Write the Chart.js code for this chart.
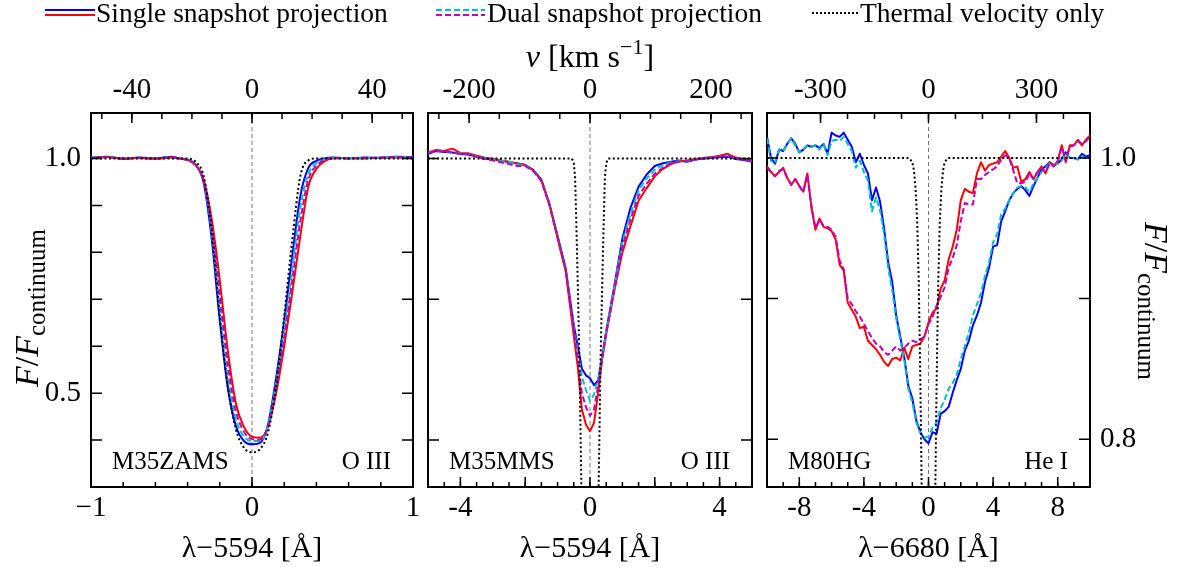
<!DOCTYPE html>
<html>
<head>
<meta charset="utf-8">
<title>Line profiles</title>
<script src="https://cdn.jsdelivr.net/npm/chart.js@4.4.1/dist/chart.umd.min.js"></script>
<style>
  html, body { margin: 0; padding: 0; background: #fff; }
  #wrap { position: relative; width: 1178px; height: 573px; overflow: hidden; }
  #wrap canvas { position: absolute; left: 0; top: 0; }
</style>
</head>
<body>
<div id="wrap">
  <canvas id="zams" width="1178" height="573"></canvas>
  <canvas id="mms" width="1178" height="573"></canvas>
  <canvas id="hg" width="1178" height="573"></canvas>
</div>
<script>
// Speed of light (km/s) for the velocity axes along the top
const C_KMS = 299792.458;
const W = 1178, H = 573;
// fixed room for each axis' tick labels (px)
const AXIS_X = 45, AXIS_Y = 55;

const BLUE = '#0000ff', RED = '#ff0000', CYAN = '#00bfbf', MAGENTA = '#bf00bf';
const SERIF = "'Liberation Serif', 'DejaVu Serif', serif";

// ---- M35ZAMS, O III (lambda - 5594 A) ----
const zamsLam = [-1, -0.9, -0.8, -0.7, -0.6, -0.5, -0.45, -0.4, -0.35, -0.3, -0.25, -0.2, -0.15, -0.1, -0.05,
  0, 0.05, 0.1, 0.15, 0.2, 0.25, 0.3, 0.35, 0.4, 0.45, 0.5, 0.6, 0.7, 0.8, 0.9, 1];
const zamsSingleBlue = [1.002, 1.004, 0.999, 1.002, 1.000, 1.004, 1.000, 0.997, 0.987, 0.948, 0.828, 0.654, 0.511, 0.430, 0.398,
  0.391, 0.394, 0.434, 0.533, 0.654, 0.792, 0.920, 0.980, 0.995, 1.000, 1.002, 1.000, 1.002, 1.001, 1.004, 1.003];
const zamsSingleRed = [1.001, 1.003, 1.000, 1.001, 0.999, 1.002, 1.000, 0.997, 0.986, 0.955, 0.870, 0.740, 0.590, 0.478, 0.428,
  0.407, 0.405, 0.428, 0.500, 0.600, 0.714, 0.835, 0.940, 0.978, 0.994, 1.000, 1.001, 1.000, 1.002, 1.002, 1.001];
const zamsDualCyan = [1.002, 1.004, 1.000, 1.002, 1.000, 1.003, 1.000, 0.997, 0.987, 0.950, 0.843, 0.685, 0.537, 0.445, 0.408,
  0.398, 0.398, 0.432, 0.523, 0.636, 0.765, 0.895, 0.967, 0.990, 0.998, 1.002, 1.001, 1.001, 1.002, 1.004, 1.002];
const zamsDualMagenta = [1.001, 1.003, 1.000, 1.001, 1.000, 1.003, 1.000, 0.997, 0.986, 0.952, 0.855, 0.712, 0.562, 0.462, 0.418,
  0.402, 0.401, 0.430, 0.512, 0.618, 0.740, 0.866, 0.955, 0.985, 0.996, 1.001, 1.000, 1.001, 1.002, 1.003, 1.002];
const zamsThermal = [1, 1, 1, 1, 1, 1, 1, 1, 0.993, 0.962, 0.850, 0.664, 0.515, 0.423, 0.384,
  0.374, 0.381, 0.417, 0.515, 0.664, 0.827, 0.962, 0.996, 1, 1, 1, 1, 1, 1, 1, 1];

// ---- M35MMS, O III (lambda - 5594 A) ----
const mmsLam = [-5, -4.75, -4.5, -4.25, -4, -3.75, -3.5, -3.25, -3, -2.75, -2.5, -2.25, -2, -1.75, -1.5, -1.25, -1, -0.75, -0.5,
  -0.375, -0.25, -0.125, 0, 0.125, 0.25, 0.375,
  0.5, 0.75, 1, 1.25, 1.5, 1.75, 2, 2.25, 2.5, 2.75, 3, 3.25, 3.5, 3.75, 4, 4.25, 4.5, 4.75, 5];
const mmsSingleBlue = [1.010, 1.016, 1.014, 1.013, 1.010, 1.008, 1.005, 1.000, 0.998, 0.996, 0.992, 0.990, 0.986, 0.976, 0.955, 0.902, 0.835, 0.766, 0.645,
  0.600, 0.552, 0.538, 0.532, 0.517, 0.527, 0.575,
  0.632, 0.728, 0.830, 0.895, 0.940, 0.966, 0.984, 0.990, 0.993, 0.996, 0.993, 0.998, 1.000, 1.001, 1.003, 1.004, 0.999, 0.997, 0.993];
const mmsSingleRed = [1.013, 1.018, 1.016, 1.021, 1.012, 1.011, 1.006, 1.002, 0.999, 0.995, 0.993, 0.989, 0.986, 0.975, 0.953, 0.903, 0.830, 0.760, 0.622,
  0.555, 0.465, 0.433, 0.419, 0.437, 0.500, 0.572,
  0.625, 0.718, 0.800, 0.856, 0.910, 0.937, 0.962, 0.978, 0.988, 0.994, 0.996, 0.999, 1.001, 1.003, 1.006, 1.010, 1.002, 0.998, 0.996];
const mmsDualCyan = [1.012, 1.015, 1.016, 1.012, 1.011, 1.009, 1.004, 1.001, 0.997, 0.995, 0.993, 0.988, 0.985, 0.974, 0.953, 0.901, 0.833, 0.764, 0.640,
  0.588, 0.535, 0.507, 0.484, 0.497, 0.530, 0.578,
  0.630, 0.726, 0.822, 0.882, 0.932, 0.958, 0.976, 0.986, 0.992, 0.994, 0.994, 0.997, 1.001, 1.003, 1.004, 1.007, 1.000, 0.998, 0.994];
const mmsDualMagenta = [1.011, 1.017, 1.015, 1.014, 1.009, 1.010, 1.003, 0.999, 0.996, 0.992, 0.988, 0.984, 0.984, 0.973, 0.952, 0.900, 0.832, 0.762, 0.635,
  0.572, 0.500, 0.470, 0.452, 0.466, 0.515, 0.577,
  0.628, 0.722, 0.812, 0.870, 0.921, 0.946, 0.968, 0.980, 0.990, 0.993, 0.995, 0.998, 1.000, 1.002, 1.005, 1.006, 1.001, 0.997, 0.995];
const mmsThermLam = [-5, -0.56, -0.5, -0.46, -0.44, -0.4, -0.36, -0.32, -0.28, -0.24, -0.2, 0,
  0.2, 0.24, 0.28, 0.32, 0.36, 0.4, 0.44, 0.46, 0.5, 0.56, 5];
const mmsThermal = [1, 1, 0.99, 0.96, 0.91, 0.80, 0.68, 0.55, 0.36, 0.2, 0.1, 0,
  0.1, 0.2, 0.36, 0.55, 0.68, 0.80, 0.91, 0.96, 0.99, 1, 1];

// ---- M80HG, He I (lambda - 6680 A) ----
const hgLam = [
  -10, -9.75, -9.5, -9.25, -9, -8.75, -8.5, -8.25,
  -8, -7.75, -7.5, -7.25, -7, -6.75, -6.5, -6.25,
  -6, -5.75, -5.5, -5.25, -5, -4.75, -4.5, -4.25,
  -4, -3.75, -3.5, -3.25, -3, -2.75, -2.5, -2.25,
  -2, -1.75, -1.5, -1.25, -1, -0.75, -0.5, -0.25,
  0, 0.25, 0.5, 0.75, 1, 1.25, 1.5, 1.75,
  2, 2.25, 2.5, 2.75, 3, 3.25, 3.5, 3.75,
  4, 4.25, 4.5, 4.75, 5, 5.25, 5.5, 5.75,
  6, 6.25, 6.5, 6.75, 7, 7.25, 7.5, 7.75,
  8, 8.25, 8.5, 8.75, 9, 9.25, 9.5, 9.75,
  10];
const hgSingleBlue = [
  1.015, 1.000, 0.996, 1.006, 1.005, 1.010, 1.014, 1.010,
  1.004, 1.006, 1.009, 1.008, 1.009, 1.007, 1.010, 1.003,
  1.018, 1.016, 1.015, 1.018, 1.013, 1.008, 0.997, 1.003,
  0.995, 0.989, 0.970, 0.979, 0.969, 0.950, 0.926, 0.912,
  0.888, 0.873, 0.858, 0.838, 0.829, 0.813, 0.805, 0.800,
  0.797, 0.805, 0.804, 0.818, 0.820, 0.823, 0.833, 0.842,
  0.850, 0.863, 0.870, 0.881, 0.888, 0.897, 0.912, 0.922,
  0.937, 0.938, 0.955, 0.962, 0.970, 0.975, 0.978, 0.980,
  0.977, 0.973, 0.980, 0.986, 0.992, 0.994, 0.997, 0.995,
  0.996, 0.999, 1.004, 1.000, 1.000, 0.999, 1.003, 1.001,
  1.002];
const hgSingleRed = [
  0.994, 0.990, 0.987, 0.990, 0.993, 0.986, 0.981, 0.985,
  0.980, 0.976, 0.989, 0.965, 0.949, 0.957, 0.951, 0.950,
  0.948, 0.942, 0.924, 0.920, 0.897, 0.892, 0.887, 0.879,
  0.880, 0.870, 0.867, 0.864, 0.860, 0.855, 0.852, 0.857,
  0.858, 0.856, 0.865, 0.857, 0.866, 0.867, 0.868, 0.873,
  0.883, 0.890, 0.893, 0.907, 0.913, 0.928, 0.937, 0.949,
  0.970, 0.978, 0.976, 0.975, 0.989, 0.997, 0.991, 0.995,
  0.996, 0.997, 1.001, 1.005, 1.000, 0.993, 0.994, 0.983,
  0.985, 0.990, 0.985, 0.990, 0.994, 0.989, 0.997, 0.994,
  0.998, 1.009, 0.997, 1.009, 1.009, 1.013, 1.009, 1.013,
  1.016];
const hgDualCyan = [
  1.014, 0.998, 0.997, 1.006, 1.005, 1.010, 1.014, 1.009,
  1.004, 1.006, 1.009, 1.008, 1.009, 1.006, 1.010, 1.002,
  1.012, 1.013, 1.012, 1.015, 1.010, 1.005, 0.993, 0.998,
  0.990, 0.984, 0.962, 0.972, 0.963, 0.946, 0.922, 0.906,
  0.886, 0.871, 0.856, 0.836, 0.826, 0.812, 0.804, 0.801,
  0.802, 0.808, 0.812, 0.822, 0.828, 0.836, 0.840, 0.846,
  0.857, 0.866, 0.876, 0.888, 0.896, 0.904, 0.916, 0.926,
  0.940, 0.946, 0.960, 0.964, 0.970, 0.975, 0.979, 0.980,
  0.979, 0.976, 0.982, 0.986, 0.990, 0.993, 0.996, 0.995,
  0.996, 0.998, 1.003, 1.000, 1.000, 0.999, 1.001, 1.000,
  1.000];
const hgDualMagenta = [
  0.993, 0.990, 0.987, 0.991, 0.992, 0.986, 0.981, 0.985,
  0.980, 0.976, 0.988, 0.966, 0.950, 0.956, 0.952, 0.951,
  0.949, 0.944, 0.927, 0.921, 0.900, 0.896, 0.891, 0.887,
  0.882, 0.877, 0.872, 0.868, 0.866, 0.862, 0.860, 0.863,
  0.866, 0.863, 0.865, 0.868, 0.870, 0.869, 0.871, 0.873,
  0.882, 0.887, 0.895, 0.901, 0.908, 0.922, 0.929, 0.938,
  0.955, 0.968, 0.967, 0.967, 0.985, 0.985, 0.988, 0.990,
  0.992, 0.994, 0.999, 1.002, 1.000, 0.991, 0.982, 0.982,
  0.983, 0.989, 0.985, 0.990, 0.993, 0.990, 0.996, 0.994,
  0.997, 1.008, 0.998, 1.008, 1.009, 1.012, 1.010, 1.012,
  1.015];
const hgThermLam = [-10, -1.2, -1, -0.9, -0.8, -0.7, -0.6, -0.5, -0.4, -0.3, -0.2, 0,
  0.2, 0.3, 0.4, 0.5, 0.6, 0.7, 0.8, 0.9, 1, 1.2, 10];
const hgThermal = [1, 1, 0.997, 0.991, 0.978, 0.955, 0.910, 0.838, 0.745, 0.63, 0.52, 0.45,
  0.52, 0.63, 0.745, 0.838, 0.910, 0.955, 0.978, 0.991, 0.997, 1, 1];

// tick positions from..to in multiples of step
const steps = (from, to, step) => {
  const out = [];
  for (let n = Math.ceil(from / step - 1e-9); n * step <= to + 1e-9; n++) {
    out.push(Math.round(n * step * 1e6) / 1e6);
  }
  return out;
};

const panels = [
  {
    id: 'zams', star: 'M35ZAMS', ion: 'O III', lam0: 5594,
    box: { left: 91, top: 113, right: 413, bottom: 487 },
    lamRange: [-1, 1], fluxRange: [0.30, 1.097],
    lamLabels: [-1, 0, 1], lamMinus: '\u2212', lamMajor: 1, lamMinor: 0.2,
    velLabels: [-40, 0, 40], velMajor: 40, velMinor: 10,
    fluxLabels: [0.5, 1.0], fluxSide: 'left', fluxTicks: steps(0.4, 1.0, 0.1),
    smooth: true,
    lam: zamsLam, blue: zamsSingleBlue, red: zamsSingleRed, cyan: zamsDualCyan, magenta: zamsDualMagenta,
    thermLam: zamsLam, therm: zamsThermal,
  },
  {
    id: 'mms', star: 'M35MMS', ion: 'O III', lam0: 5594,
    box: { left: 428, top: 113, right: 752, bottom: 487 },
    lamRange: [-5, 5], fluxRange: [0.30, 1.097],
    lamLabels: [-4, 0, 4], lamMinus: '-', lamMajor: 2, lamMinor: 0.5,
    velLabels: [-200, 0, 200], velMajor: 200, velMinor: 50,
    fluxLabels: [0.4, 0.7, 1.0], fluxSide: 'none', fluxTicks: [0.4, 0.7, 1.0],
    smooth: false,
    lam: mmsLam, blue: mmsSingleBlue, red: mmsSingleRed, cyan: mmsDualCyan, magenta: mmsDualMagenta,
    thermLam: mmsThermLam, therm: mmsThermal,
  },
  {
    id: 'hg', star: 'M80HG', ion: 'He I', lam0: 6680,
    box: { left: 767, top: 113, right: 1090, bottom: 487 },
    lamRange: [-10, 10], fluxRange: [0.766, 1.032],
    lamLabels: [-8, -4, 0, 4, 8], lamMinus: '-', lamMajor: 4, lamMinor: 1,
    velLabels: [-300, 0, 300], velMajor: 300, velMinor: 75,
    fluxLabels: [0.8, 1.0], fluxSide: 'right', fluxTicks: [0.8, 0.9, 1.0],
    smooth: false,
    lam: hgLam, blue: hgSingleBlue, red: hgSingleRed, cyan: hgDualCyan, magenta: hgDualMagenta,
    thermLam: hgThermLam, therm: hgThermal,
  },
];

// Text made of pieces with their own font and baseline shift, centred on (cx, cy)
const richText = (ctx, parts, cx, cy, angle) => {
  ctx.save();
  ctx.translate(cx, cy);
  ctx.rotate(angle || 0);
  ctx.fillStyle = '#000';
  ctx.textAlign = 'left';
  ctx.textBaseline = 'alphabetic';
  let total = 0;
  parts.forEach(p => { ctx.font = p.font; p.w = ctx.measureText(p.t).width; total += p.w; });
  let x = -total / 2;
  parts.forEach(p => { ctx.font = p.font; ctx.fillText(p.t, x, p.dy || 0); x += p.w; });
  ctx.restore();
};

const lamFont = `30px ${SERIF}`;
const titleFont = `32px ${SERIF}`, titleIt = `italic 32px ${SERIF}`, supFont = `22px ${SERIF}`;
const fluxTitle = [
  { t: 'F', font: `italic 34px ${SERIF}` }, { t: '/', font: `34px ${SERIF}` }, { t: 'F', font: `italic 34px ${SERIF}` },
  { t: 'continuum', font: `25px ${SERIF}`, dy: 7 },
];

const legendLine = (ctx, x0, x1, y, color, dash) => {
  ctx.save();
  ctx.strokeStyle = color;
  ctx.lineWidth = 2;
  ctx.setLineDash(dash);
  ctx.beginPath();
  ctx.moveTo(x0, y);
  ctx.lineTo(x1, y);
  ctx.stroke();
  ctx.restore();
};

const drawLegend = ctx => {
  ctx.save();
  ctx.font = `27.5px ${SERIF}`;
  ctx.fillStyle = '#000';
  ctx.textBaseline = 'alphabetic';
  legendLine(ctx, 45, 95, 10, BLUE, []);
  legendLine(ctx, 45, 95, 15, RED, []);
  ctx.fillText('Single snapshot projection', 96, 22);
  legendLine(ctx, 436, 485, 10, CYAN, [6, 3]);
  legendLine(ctx, 436, 485, 15, MAGENTA, [6, 3]);
  ctx.fillText('Dual snapshot projection', 487, 22);
  legendLine(ctx, 812, 858, 13, '#000', [2, 2]);
  ctx.fillText('Thermal velocity only', 860, 22);
  ctx.restore();
};

// Inward tick marks along one scale
const inwardTicks = (chart, id, values, len) => {
  const s = chart.scales[id], a = chart.chartArea, ctx = chart.ctx;
  ctx.beginPath();
  values.forEach(v => {
    if (v < s.min - 1e-9 || v > s.max + 1e-9) return;
    const p = s.getPixelForValue(v);
    if (s.position === 'bottom') { ctx.moveTo(p, a.bottom); ctx.lineTo(p, a.bottom - len); }
    if (s.position === 'top') { ctx.moveTo(p, a.top); ctx.lineTo(p, a.top + len); }
    if (s.position === 'left') { ctx.moveTo(a.left, p); ctx.lineTo(a.left + len, p); }
    if (s.position === 'right') { ctx.moveTo(a.right, p); ctx.lineTo(a.right - len, p); }
  });
  ctx.stroke();
};

const profile = (lam, flux, color, dash, order, smooth) => ({
  data: lam.map((x, i) => ({ x, y: flux[i] })),
  borderColor: color,
  borderWidth: 2,
  borderDash: dash,
  borderJoinStyle: 'round',
  pointRadius: 0,
  fill: false,
  order,
  tension: 0,
  cubicInterpolationMode: smooth ? 'monotone' : 'default',
});

const buildPanel = p => {
  const vel = p.lamRange.map(l => (l * C_KMS) / p.lam0);
  const tickFont = { family: SERIF, size: 29 };
  const fixed = labels => s => { s.ticks = labels.map(value => ({ value })); };
  const sizeX = s => { s.height = AXIS_X; s.paddingLeft = s.paddingRight = s.paddingTop = s.paddingBottom = 0; };
  const sizeY = s => { s.width = AXIS_Y; s.paddingLeft = s.paddingRight = s.paddingTop = s.paddingBottom = 0; };
  const axis = {
    display: true,
    grid: { display: true, drawOnChartArea: false, drawTicks: false },
    border: { display: true, color: '#000', width: 2 },
  };
  const tickBase = { font: tickFont, color: '#000', autoSkip: false, maxRotation: 0, minRotation: 0 };

  const decor = {
    id: 'decor',
    beforeDatasetsDraw(chart) {
      const { ctx, chartArea: a, scales } = chart;
      const x0 = scales.x.getPixelForValue(0);
      ctx.save();
      ctx.strokeStyle = '#777';
      ctx.lineWidth = 1;
      ctx.setLineDash([4, 3]);
      ctx.beginPath();
      ctx.moveTo(x0, a.top);
      ctx.lineTo(x0, a.bottom);
      ctx.stroke();
      ctx.restore();
    },
    afterDraw(chart) {
      const { ctx, chartArea: a, scales } = chart;
      ctx.save();
      ctx.strokeStyle = '#000';
      ctx.lineWidth = 1.5;
      inwardTicks(chart, 'x', steps(scales.x.min, scales.x.max, p.lamMajor), 10);
      inwardTicks(chart, 'x', steps(scales.x.min, scales.x.max, p.lamMinor), 5);
      inwardTicks(chart, 'v', steps(scales.v.min, scales.v.max, p.velMajor), 10);
      inwardTicks(chart, 'v', steps(scales.v.min, scales.v.max, p.velMinor), 6);
      inwardTicks(chart, 'y', p.fluxTicks, 11);
      inwardTicks(chart, 'yr', p.fluxTicks, 11);

      ctx.fillStyle = '#000';
      ctx.font = `25px ${SERIF}`;
      ctx.textBaseline = 'alphabetic';
      ctx.textAlign = 'left';
      ctx.fillText(p.star, a.left + 21, a.bottom - 18);
      ctx.textAlign = 'right';
      ctx.fillText(p.ion, a.right - 22, a.bottom - 18);
      ctx.restore();

      const cx = (a.left + a.right) / 2;
      richText(ctx, [{ t: `\u03bb\u2212${p.lam0} [\u00c5]`, font: lamFont }], cx, 557);

      if (p.fluxSide === 'left') {
        richText(ctx, fluxTitle, 38, 308, -Math.PI / 2);
        drawLegend(ctx);
      }
      if (p.fluxSide === 'right') {
        richText(ctx, fluxTitle, 1145, 301, Math.PI / 2);
      }
      if (p.fluxSide === 'none') {
        richText(ctx, [
          { t: 'v', font: titleIt }, { t: ' [km s', font: titleFont },
          { t: '\u22121', font: supFont, dy: -13 }, { t: ']', font: titleFont },
        ], cx, 67);
      }
    },
  };

  return new Chart(document.getElementById(p.id), {
    type: 'line',
    data: {
      datasets: [
        profile(p.lam, p.blue, BLUE, [], 4, p.smooth),
        profile(p.lam, p.red, RED, [], 3, p.smooth),
        profile(p.lam, p.cyan, CYAN, [6, 3], 2, p.smooth),
        profile(p.lam, p.magenta, MAGENTA, [6, 3], 1, p.smooth),
        profile(p.thermLam, p.therm, '#000', [2, 2.5], 0, p.smooth),
      ],
    },
    options: {
      responsive: false,
      animation: false,
      events: [],
      layout: {
        padding: {
          left: p.box.left - AXIS_Y,
          top: p.box.top - AXIS_X,
          right: W - p.box.right - AXIS_Y,
          bottom: H - p.box.bottom - AXIS_X,
        },
      },
      plugins: { legend: { display: false }, tooltip: { enabled: false } },
      scales: {
        x: {
          ...axis, type: 'linear', position: 'bottom', min: p.lamRange[0], max: p.lamRange[1],
          afterBuildTicks: fixed(p.lamLabels), afterFit: sizeX,
          ticks: { ...tickBase, padding: 4, callback: v => (v < 0 ? p.lamMinus + Math.abs(v) : String(v)) },
        },
        v: {
          ...axis, type: 'linear', position: 'top', min: vel[0], max: vel[1],
          afterBuildTicks: fixed(p.velLabels), afterFit: sizeX,
          ticks: { ...tickBase, padding: 5, callback: v => String(v) },
        },
        y: {
          ...axis, type: 'linear', position: 'left', min: p.fluxRange[0], max: p.fluxRange[1],
          afterBuildTicks: fixed(p.fluxLabels), afterFit: sizeY,
          ticks: { ...tickBase, display: p.fluxSide === 'left', padding: 10, callback: v => v.toFixed(1) },
        },
        yr: {
          ...axis, type: 'linear', position: 'right', min: p.fluxRange[0], max: p.fluxRange[1],
          afterBuildTicks: fixed(p.fluxLabels), afterFit: sizeY,
          ticks: { ...tickBase, display: p.fluxSide === 'right', padding: 10, callback: v => v.toFixed(1) },
        },
      },
    },
    plugins: [decor],
  });
};

panels.forEach(buildPanel);
</script>
</body>
</html>
